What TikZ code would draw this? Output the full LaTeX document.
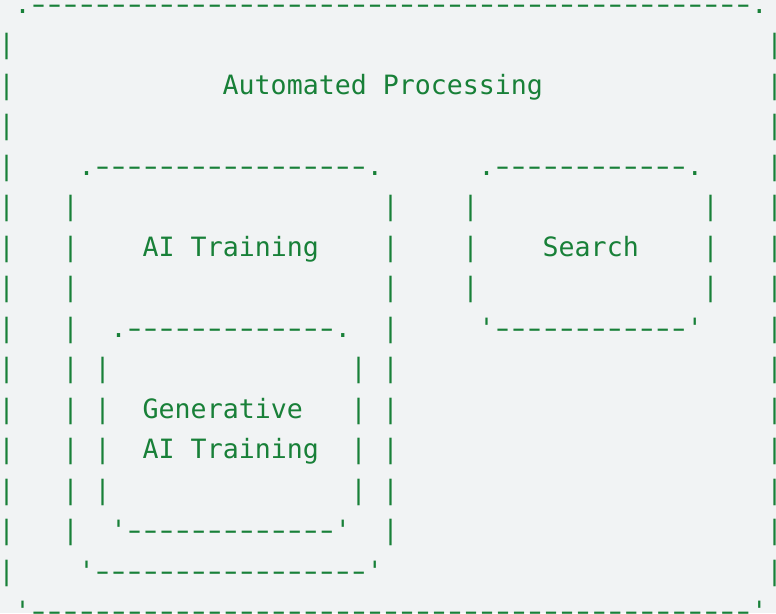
\documentclass[tikz,border=0pt]{standalone}
\usepackage{fontspec}
\usepackage{graphicx}
\setmonofont{DejaVu Sans Mono}
\definecolor{codegreen}{HTML}{188038}
\definecolor{pagebg}{HTML}{F1F3F4}
\ExplSyntaxOn
\newcommand\rep[2]{\prg_replicate:nn{#1}{#2}}
\ExplSyntaxOff
\newcommand\dsh{\makebox[0.6021em]{\scalebox{1.5}[1]{-}}}
\tikzset{ascii/.style={font=\ttfamily\fontsize{26.6pt}{40.5pt}\selectfont, text=codegreen, inner sep=0pt, outer sep=0pt, anchor=base west}}
\newcommand\ac[4]{\node[ascii] (#1) at ({16*(#2)-1.3},{-(13.3+40.5*(#3))}) {#4};}
\begin{document}
\begin{tikzpicture}[x=1pt,y=1pt]
\fill[pagebg] (0,0) rectangle (776,-613);
\useasboundingbox (0,0) rectangle (776,-613);
\clip (0,0) rectangle (776,-613);
% outer box: Automated Processing
\ac{topedge}{1}{0}{.\rep{45}{\dsh}.}
\foreach \r in {1,...,14} {\ac{outerL\r}{0}{\r}{|}\ac{outerR\r}{48}{\r}{|}}
\ac{title}{14}{2}{Automated Processing}
% AI Training box and Search box
\ac{aitop}{5}{4}{.\rep{17}{\dsh}.}
\ac{searchtop}{30}{4}{.\rep{12}{\dsh}.}
\foreach \r in {5,6,7} {\ac{aiL\r}{4}{\r}{|}\ac{aiR\r}{24}{\r}{|}\ac{seL\r}{29}{\r}{|}\ac{seR\r}{44}{\r}{|}}
\ac{ailabel}{9}{6}{AI Training}
\ac{searchlabel}{34}{6}{Search}
\ac{aiLviii}{4}{8}{|}
\ac{aiRviii}{24}{8}{|}
\ac{gentop}{7}{8}{.\rep{13}{\dsh}.}
\ac{searchbot}{30}{8}{'\rep{12}{\dsh}'}
% Generative AI Training box
\foreach \r in {9,...,12} {\ac{aiL\r}{4}{\r}{|}\ac{aiR\r}{24}{\r}{|}\ac{genL\r}{6}{\r}{|}\ac{genR\r}{22}{\r}{|}}
\ac{genlabelA}{9}{10}{Generative}
\ac{genlabelB}{9}{11}{AI Training}
\ac{aiLxiii}{4}{13}{|}
\ac{aiRxiii}{24}{13}{|}
\ac{genbot}{7}{13}{'\rep{13}{\dsh}'}
\ac{aibot}{5}{14}{'\rep{17}{\dsh}'}
\ac{bottomedge}{1}{15}{'\rep{45}{\dsh}'}
\end{tikzpicture}
\end{document}
